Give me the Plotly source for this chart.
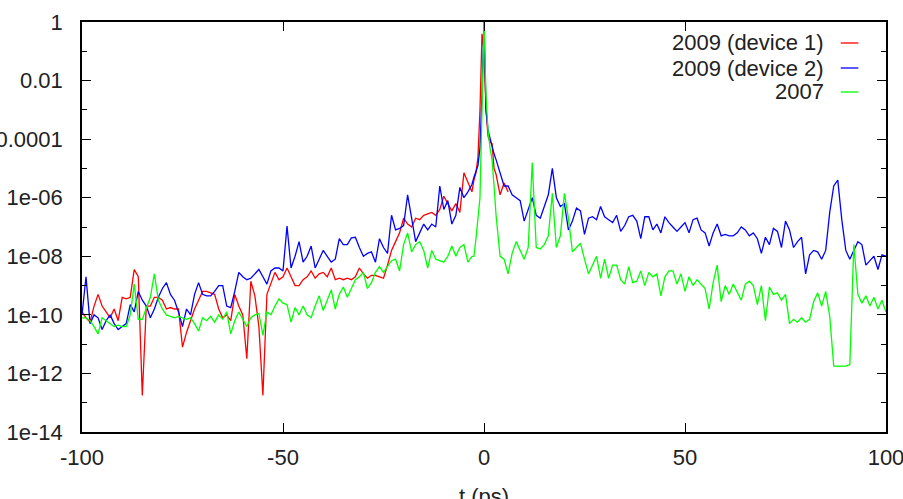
import plotly.graph_objects as go

# ---------------- data (log10 of normalised intensity) ----------------
t_left = list(range(-100, -2))          # -100 .. -3 ps
t_mid = [-2.5, -2, -1.5, -1, -0.5, 0, 0.5, 1, 1.5, 2, 2.5]
t_right = list(range(3, 101))           # 3 .. 100 ps

blue_left = [
    -10.0, -8.7, -10.3, -10.0, -10.1, -10.5, -10.2, -10.0, -10.3, -10.5,
    -10.4, -10.3, -9.65, -9.9, -9.2, -9.5, -9.7, -10.1, -9.8, -9.4,
    -9.1, -8.9, -9.3, -9.5, -9.9, -10.4, -9.8, -10.0, -9.3, -8.9,
    -9.3, -9.35, -9.35, -9.2, -9.0, -9.0, -9.7, -9.75, -9.2, -8.55,
    -8.7, -8.8, -8.75, -8.6, -8.45, -8.7, -8.95, -8.5, -8.4, -8.4,
    -8.5, -6.97, -8.4, -8.0, -7.5, -8.2, -8.0, -7.65, -8.4, -8.1,
    -7.8, -8.0, -8.2, -8.1, -7.4, -7.6, -7.6, -7.37, -7.35, -7.7,
    -8.0, -7.9, -7.85, -8.2, -7.4, -7.7, -7.9, -6.6, -7.1, -7.05,
    -6.95, -5.9, -6.7, -7.5, -7.2, -6.9, -7.1, -6.9, -7.0, -5.6,
    -6.4, -6.1, -6.9, -6.6, -5.65, -6.0, -5.8, -5.55,
]
blue_mid = [-5.3, -5.1, -4.9, -4.3, -2.5, 0.0, -3.0, -3.7, -4.0, -4.3, -4.5]
blue_right = [
    -4.7, -5.15, -5.6, -5.6, -5.9, -6.0, -6.1, -6.8, -6.4, -6.0,
    -6.6, -6.7, -6.3, -5.9, -5.0, -6.0, -6.3, -6.2, -7.1, -6.8,
    -6.35, -6.45, -7.25, -6.7, -6.65, -6.75, -6.3, -6.65, -6.75, -6.85,
    -6.6, -7.15, -6.95, -6.65, -6.6, -6.8, -7.4, -6.65, -6.65, -7.1,
    -6.9, -7.2, -6.65, -6.85, -7.0, -7.15, -7.0, -6.85, -7.2, -6.75,
    -6.7, -7.1, -7.2, -7.65, -7.2, -6.9, -7.3, -7.25, -7.3, -7.3,
    -7.2, -7.0, -7.1, -7.3, -7.2, -7.4, -7.9, -7.35, -7.6, -7.05,
    -7.15, -7.7, -6.8, -7.1, -7.7, -7.5, -7.35, -8.6, -7.95, -7.8,
    -7.85, -8.1, -7.8, -6.5, -5.6, -5.4, -6.75, -7.8, -8.1, -7.8,
    -7.5, -7.6, -8.3, -8.15, -8.0, -8.45, -7.95, -8.0,
]

red_left = [
    -9.9, -10.1, -10.25, -9.7, -9.3, -9.7, -9.9, -10.1, -9.8, -10.2,
    -9.4, -9.45, -9.4, -8.45, -8.7, -12.75, -9.7, -9.7, -9.4, -9.4,
    -9.5, -9.8, -9.75, -9.8, -9.8, -11.1, -10.6, -10.2, -9.8, -9.5,
    -9.2, -9.2, -9.25, -9.3, -9.8, -10.1, -10.0, -10.2, -9.3, -9.7,
    -10.0, -11.5, -8.85, -9.35, -10.4, -12.75, -9.3, -8.9, -8.55, -8.8,
    -8.7, -8.4, -8.7, -9.0, -9.0, -8.8, -8.7, -8.5, -8.75, -8.6,
    -8.55, -8.7, -8.4, -8.8, -8.75, -8.8, -8.75, -8.8, -8.7, -8.4,
    -8.6, -8.75, -8.65, -8.65, -8.7, -8.75, -8.3, -7.8, -7.5, -7.2,
    -6.7, -6.9, -7.0, -6.7, -6.75, -6.6, -6.55, -6.5, -6.6, -6.4,
    -5.95, -6.2, -6.45, -6.2, -6.5, -5.15, -5.5, -5.8,
]
red_mid = [-5.4, -5.15, -4.6, -3.0, -0.4, -1.0, -3.0, -3.9, -4.1, -4.15, -5.0]
red_right = [-5.2, -5.9, -5.5, -5.8]          # 3 .. 6 ps

green_left = [
    -10.1, -10.1, -10.2, -10.4, -10.65, -10.1, -10.2, -10.3, -10.4, -10.35,
    -10.4, -10.4, -10.0, -8.95, -10.15, -10.15, -9.8, -9.4, -8.6, -9.5,
    -9.8, -10.0, -10.05, -10.1, -10.05, -10.1, -10.15, -10.1, -10.3, -10.55,
    -10.1, -10.2, -10.05, -10.25, -10.0, -10.15, -9.9, -10.65, -10.2, -9.9,
    -10.15, -10.4, -10.1, -10.0, -9.95, -10.7, -9.9, -10.0, -9.7, -9.45,
    -9.6, -9.65, -10.25, -9.75, -10.0, -9.7, -10.0, -10.1, -9.7, -9.35,
    -9.85, -9.5, -9.15, -9.8, -9.3, -9.05, -9.4, -9.1, -8.8, -8.7,
    -8.55, -9.1, -8.9, -8.55, -8.35, -8.55, -8.35, -8.15, -8.1, -8.5,
    -7.6, -7.2, -7.85, -7.6, -7.5, -7.8, -8.4, -7.8, -8.1, -8.15,
    -8.2, -8.0, -7.65, -8.0, -7.7, -7.6, -8.2, -8.0,
]
green_mid = [-8.0, -7.4, -6.8, -6.0, -3.0, 0.0, -2.5, -3.7, -4.3, -4.7, -5.6]
green_right = [
    -6.6, -8.0, -8.1, -8.6, -7.9, -7.5, -7.8, -8.1, -7.7, -4.8,
    -7.7, -7.75, -7.6, -7.3, -5.85, -7.7, -7.3, -5.85, -6.7, -7.85,
    -7.7, -7.55, -8.1, -8.6, -8.3, -8.0, -8.75, -8.1, -8.75, -8.3,
    -8.3, -8.8, -8.95, -8.35, -8.9, -8.85, -8.5, -9.0, -8.55, -8.7,
    -8.6, -9.35, -8.7, -8.5, -8.5, -8.95, -8.6, -9.2, -8.7, -9.0,
    -8.8, -8.95, -9.1, -9.8, -8.9, -8.3, -9.55, -9.0, -9.3, -8.95,
    -9.2, -9.5, -8.95, -8.85, -9.0, -9.65, -9.0, -10.2, -9.05, -9.3,
    -9.25, -9.5, -9.3, -10.3, -10.15, -10.25, -10.1, -10.25, -10.15, -9.55,
    -9.25, -9.7, -9.2, -10.05, -11.75, -11.75, -11.75, -11.75, -11.7, -7.6,
    -9.3, -9.6, -9.35, -9.7, -9.4, -9.8, -9.5, -9.9,
]

series_names = ["2009 (device 1)", "2009 (device 2)", "2007"]
series_colors = ["#ff0000", "#0000ff", "#00ff00"]

y_tickvals = [1, 1e-2, 1e-4, 1e-6, 1e-8, 1e-10, 1e-12, 1e-14]
y_ticktext = ["1", "0.01", "0.0001", "1e-06", "1e-08", "1e-10", "1e-12", "1e-14"]
y_minorvals = [1e-1, 1e-3, 1e-5, 1e-7, 1e-9, 1e-11, 1e-13]
x_tickvals = [-100, -50, 0, 50, 100]
x_ticktext = ["-100", "-50", "0", "50", "100"]

# ---------------- build ----------------
t_all = t_left + t_mid + t_right
t_red = t_left + t_mid + t_right[:len(red_right)]

series = [
    (t_red, red_left + red_mid + red_right),
    (t_all, blue_left + blue_mid + blue_right),
    (t_all, green_left + green_mid + green_right),
]

fig = go.Figure()
for (tx, lg), name, col in zip(series, series_names, series_colors):
    fig.add_trace(go.Scatter(
        x=tx, y=[10 ** v for v in lg], mode="lines", name=name,
        line=dict(color=col, width=1.3), showlegend=False,
    ))

FONT = "Liberation Sans, Arial, sans-serif"
FS = 22
fig.update_layout(
    width=903, height=499,
    margin=dict(l=82, r=17, t=22, b=67),
    paper_bgcolor="white", plot_bgcolor="white",
    font=dict(family=FONT, size=FS, color="#222222"),
    showlegend=False,
)
fig.update_xaxes(
    range=[-100, 100], tickvals=x_tickvals, ticktext=x_ticktext,
    ticks="inside", ticklen=9, tickwidth=1.2, tickcolor="black",
    showline=True, linecolor="black", linewidth=1.6, mirror="ticks",
    showgrid=False, zeroline=False, ticklabelstandoff=5, automargin=False,
    ticklabeloverflow="allow",
)
fig.update_yaxes(
    type="log", range=[-14, 0], tickvals=y_tickvals, ticktext=y_ticktext,
    ticks="inside", ticklen=9, tickwidth=1.2, tickcolor="black",
    showline=True, linecolor="black", linewidth=1.6, mirror="ticks",
    showgrid=False, zeroline=False, ticklabelstandoff=13, automargin=False,
    ticklabeloverflow="allow",
    minor=dict(tickvals=y_minorvals, ticks="inside", ticklen=5,
               tickcolor="black", tickwidth=1.2, showgrid=False),
)

# x-axis title
fig.add_annotation(text="t (ps)", x=0.5, y=-0.122, xref="paper", yref="paper",
                   xanchor="center", yanchor="top", showarrow=False,
                   font=dict(size=FS))

# key (text right-aligned, sample line to its right)
key_y = [0.9488, 0.8878, 0.8293]
for name, col, ky in zip(series_names, series_colors, key_y):
    fig.add_annotation(text=name, x=0.9254, y=ky, xref="paper", yref="paper",
                       xanchor="right", yanchor="middle", showarrow=False,
                       font=dict(size=FS))
    fig.add_shape(type="line", xref="paper", yref="paper",
                  x0=0.9437, x1=0.9656, y0=ky, y1=ky,
                  line=dict(color=col, width=1.3))

fig.write_html("out.html")
